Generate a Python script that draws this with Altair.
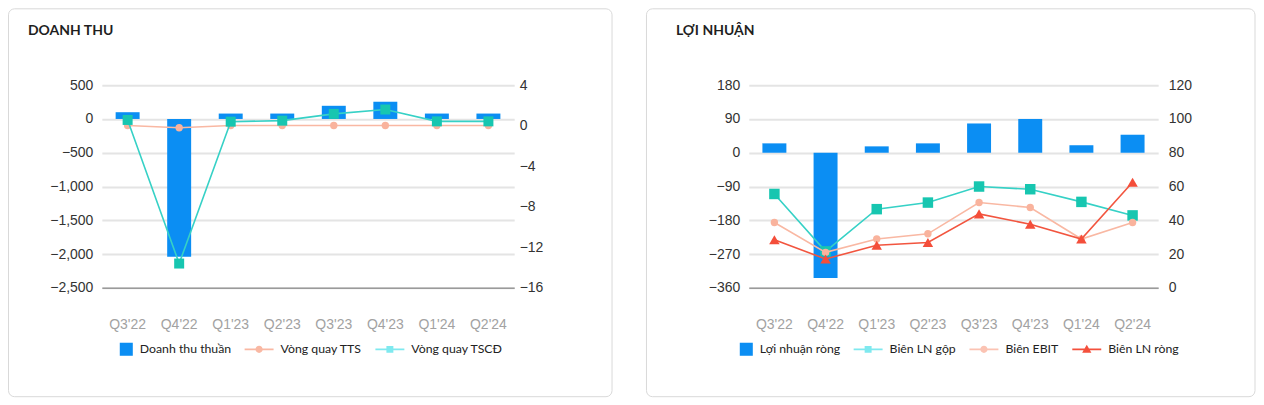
import altair as alt
import pandas as pd

quarters = ["Q3'22", "Q4'22", "Q1'23", "Q2'23", "Q3'23", "Q4'23", "Q1'24", "Q2'24"]

# Panel 1: DOANH THU
title_left = "DOANH THU"
doanh_thu_thuan = [100, -2040, 80, 80, 195, 255, 80, 80]
vong_quay_tts = [0.02, -0.2, 0.02, 0.02, 0.02, 0.02, 0.02, 0.02]
vong_quay_tscd = [0.57, -13.6, 0.4, 0.5, 1.17, 1.6, 0.43, 0.43]
series_left = ["Doanh thu thuần", "Vòng quay TTS", "Vòng quay TSCĐ"]
left_ticks = [500, 0, -500, -1000, -1500, -2000, -2500]
left_ticks_r = [4, 0, -4, -8, -12, -16]

# Panel 2: LỢI NHUẬN
title_right = "LỢI NHUẬN"
loi_nhuan_rong = [25, -334, 17, 25, 78, 90, 20, 48]
bien_ln_gop = [55.6, 21.6, 46.6, 50.5, 60.0, 58.4, 50.9, 42.9]
bien_ebit = [38.7, 21.0, 28.9, 32.0, 50.5, 47.6, 28.9, 38.7]
bien_ln_rong = [28.5, 17.1, 25.2, 26.9, 43.8, 37.7, 28.9, 62.5]
series_right = ["Lợi nhuận ròng", "Biên LN gộp", "Biên EBIT", "Biên LN ròng"]
right_ticks = [180, 90, 0, -90, -180, -270, -360]
right_ticks_r = [120, 100, 80, 60, 40, 20, 0]

BLUE = "#0b8ef3"
TEAL_LINE, TEAL_PT = "#36d1c6", "#17c6b0"
SALMON_LINE, SALMON_PT = "#f9b8a3", "#f9b39d"
RED_LINE, RED_PT = "#f2553f", "#f44e3a"

# legend symbol paths (unit square -1..1)
P_BAR = "M0.1,-0.45H1V0.45H0.1Z"
LINE = "M-1,-0.055H1V0.055H-1Z "
P_CIRCLE = LINE + "M0.25,0A0.25,0.25 0 1,1 -0.25,0A0.25,0.25 0 1,1 0.25,0Z"
P_SQUARE = LINE + "M-0.24,-0.24H0.24V0.24H-0.24Z"
P_TRI = LINE + "M0,-0.32L0.32,0.24L-0.32,0.24Z"

AX_FONT = "Liberation Sans"
LG_FONT = "Lato"

df_l = pd.DataFrame({"quy": quarters, "dtt": doanh_thu_thuan, "tts": vong_quay_tts, "tscd": vong_quay_tscd})
df_r = pd.DataFrame({"quy": quarters, "lnr": loi_nhuan_rong, "gop": bien_ln_gop, "ebit": bien_ebit, "rong": bien_ln_rong})

X_AXIS = alt.Axis(title=None, labelAngle=0, labelFont=AX_FONT, labelFontSize=14,
                  labelColor="#a2a2a2", labelPadding=30, ticks=False, domain=True,
                  domainColor="#9a9a9a", domainWidth=1.5, grid=False)


def xenc():
    return alt.X("quy:N", sort=quarters, scale=alt.Scale(paddingInner=0, paddingOuter=0), axis=X_AXIS)


def yleft(field, dom, vals, fmt):
    return alt.Y(field, scale=alt.Scale(domain=dom, nice=False, zero=False),
                 axis=alt.Axis(title=None, values=vals, format=fmt, labelFont=AX_FONT, labelFontSize=14,
                               labelColor="#333333", labelPadding=9, ticks=False, domain=False,
                               grid=True, gridColor="#e4e4e4", gridWidth=2))


def yright(field, dom, vals, pad):
    return alt.Y(field, scale=alt.Scale(domain=dom, nice=False, zero=False),
                 axis=alt.Axis(title=None, orient="right", values=vals, format="d", labelFont=AX_FONT,
                               labelFontSize=14, labelColor="#333333", labelPadding=pad, ticks=False,
                               domain=False, grid=False))


def card(x1, x2):
    return alt.Chart(pd.DataFrame({"c": [0]})).mark_rect(
        fill="transparent", stroke="#d9d9d9", strokeWidth=1, cornerRadius=6
    ).encode(x=alt.value(x1), x2=alt.value(x2), y=alt.value(-76.5), y2=alt.value(312))


def title(txt, dx):
    return alt.Chart(pd.DataFrame({"t": [txt]})).mark_text(
        align="left", baseline="middle", font=LG_FONT, fontWeight="bold", fontSize=14, color="#1f1f1f"
    ).encode(text="t:N", x=alt.value(dx), y=alt.value(-54))


def legend_layer(series, colors, shapes, lx):
    lg = alt.Legend(title=None, orient="none", legendX=lx, legendY=249.5, direction="horizontal",
                    columns=len(series), symbolSize=841, labelFont=LG_FONT, labelFontSize=12.3,
                    labelColor="#222222", labelOffset=7, columnPadding=13, symbolStrokeWidth=0,
                    padding=0, symbolOpacity=1)
    return alt.Chart(pd.DataFrame({"series": series})).transform_filter("false").mark_point(
        filled=True, opacity=1
    ).encode(
        color=alt.Color("series:N", scale=alt.Scale(domain=series, range=colors), legend=lg),
        shape=alt.Shape("series:N", scale=alt.Scale(domain=series, range=shapes), legend=lg),
    )


def line(df, field, lc, pc, shape, size, dom, vals, pad):
    return alt.Chart(df).mark_line(
        color=lc, strokeWidth=1.6,
        point=alt.OverlayMarkDef(shape=shape, size=size, filled=True, color=pc, opacity=1),
    ).encode(x=xenc(), y=yright(field, dom, vals, pad))


# ---- left panel
bars_l = alt.Chart(df_l).mark_bar(size=24, color=BLUE).encode(
    x=xenc(), y=yleft("dtt:Q", [-2500, 500], left_ticks, ",.0f"))
lines_l = alt.layer(
    line(df_l, "tts:Q", SALMON_LINE, SALMON_PT, "circle", 55, [-16, 4], left_ticks_r, 5),
    line(df_l, "tscd:Q", TEAL_LINE, TEAL_PT, "square", 100, [-16, 4], left_ticks_r, 5),
)
left = alt.layer(
    card(-93.5, 511), title(title_left, -74), bars_l, lines_l,
    legend_layer(series_left, [BLUE, "#f9b8a3", "#7fe9ef"], [P_BAR, P_CIRCLE, P_SQUARE], 2),
).resolve_scale(y="independent").properties(width=413, height=203)

# ---- right panel
bars_r = alt.Chart(df_r).mark_bar(size=24, color=BLUE).encode(
    x=xenc(), y=yleft("lnr:Q", [-360, 180], right_ticks, "d"))
lines_r = alt.layer(
    line(df_r, "gop:Q", TEAL_LINE, TEAL_PT, "square", 110, [0, 120], right_ticks_r, 10),
    line(df_r, "ebit:Q", SALMON_LINE, SALMON_PT, "circle", 55, [0, 120], right_ticks_r, 10),
    line(df_r, "rong:Q", RED_LINE, RED_PT, "triangle-up", 110, [0, 120], right_ticks_r, 10),
)
right = alt.layer(
    card(-102.5, 507), title(title_right, -73), bars_r, lines_r,
    legend_layer(series_right, [BLUE, "#7fe9ef", "#fbc3b3", "#f4503c"], [P_BAR, P_SQUARE, P_CIRCLE, P_TRI], -25),
).resolve_scale(y="independent").properties(width=410, height=203)

chart = alt.hconcat(left, right, spacing=235, bounds="flush").resolve_scale(
    color="independent", shape="independent"
).resolve_legend(color="independent", shape="independent").properties(padding=0).configure_view(stroke=None)

chart.save("out.html", embed_options={"renderer": "svg", "actions": False})
